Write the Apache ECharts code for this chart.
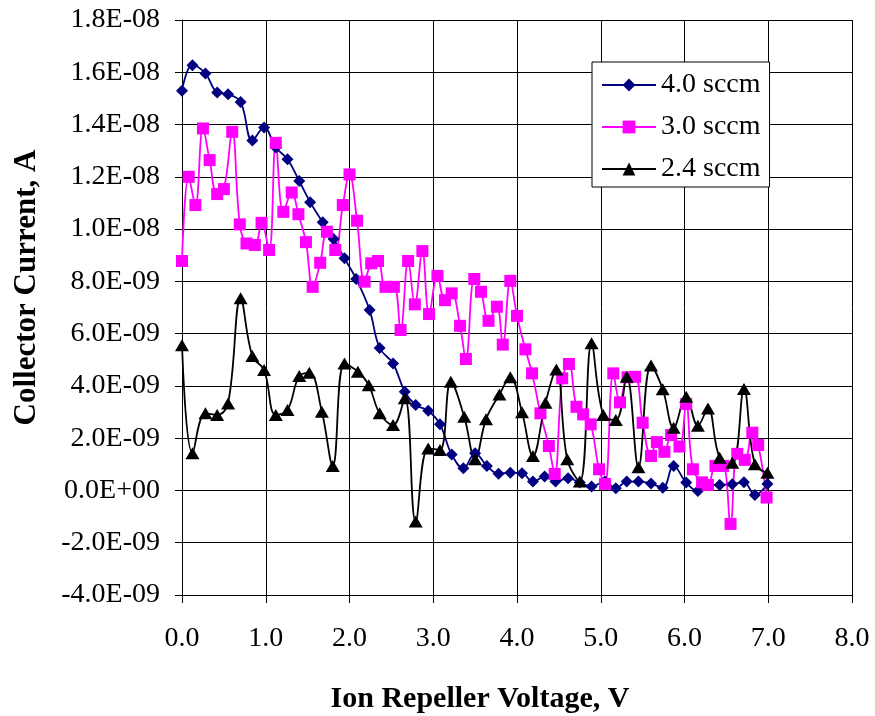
<!DOCTYPE html>
<html>
<head>
<meta charset="utf-8">
<script src="https://cdn.jsdelivr.net/npm/echarts@6/dist/echarts.min.js"></script>
<style>
  html, body { margin: 0; padding: 0; background: #fff; }
  #chart { width: 875px; height: 716px; }
</style>
</head>
<body>
<div id="chart"></div>
<script>
// currents are in units of 1E-09 A, voltages in V
var x40 = [0.00, 0.125, 0.28, 0.42, 0.55, 0.70, 0.84, 0.98, 1.12, 1.26, 1.40, 1.53, 1.68, 1.81, 1.94, 2.08, 2.24, 2.36, 2.52, 2.66,
	2.79, 2.94, 3.08, 3.22, 3.36, 3.50, 3.64, 3.78, 3.92, 4.06, 4.19, 4.33, 4.46, 4.61, 4.75, 4.89, 5.05, 5.18, 5.31, 5.45,
	5.60, 5.74, 5.87, 6.02, 6.16, 6.28, 6.42, 6.57, 6.71, 6.84, 6.99]
var y40 = [15.29, 16.27, 15.95, 15.23, 15.16, 14.86, 13.39, 13.89, 13.12, 12.67, 11.84, 11.03, 10.26, 9.62, 8.88, 8.09, 6.90, 5.45, 4.86, 3.78,
	3.27, 3.05, 2.53, 1.38, 0.85, 1.42, 0.94, 0.64, 0.68, 0.66, 0.34, 0.53, 0.34, 0.47, 0.30, 0.15, 0.34, 0.08, 0.34, 0.34,
	0.27, 0.10, 0.94, 0.30, -0.02, 0.21, 0.21, 0.24, 0.31, -0.17, 0.25]

var x30 = [0.00, 0.08, 0.16, 0.25, 0.33, 0.42, 0.50, 0.60, 0.69, 0.77, 0.87, 0.95, 1.04, 1.12, 1.21, 1.31, 1.39, 1.48, 1.56, 1.65,
	1.73, 1.83, 1.92, 2.00, 2.09, 2.18, 2.26, 2.34, 2.43, 2.53, 2.61, 2.70, 2.78, 2.87, 2.95, 3.05, 3.14, 3.22, 3.32, 3.39,
	3.49, 3.57, 3.66, 3.76, 3.83, 3.92, 4.00, 4.10, 4.18, 4.28, 4.38, 4.45, 4.54, 4.62, 4.71, 4.79, 4.88, 4.98, 5.05, 5.15,
	5.23, 5.32, 5.41, 5.50, 5.60, 5.67, 5.76, 5.84, 5.94, 6.02, 6.10, 6.21, 6.28, 6.37, 6.46, 6.55, 6.63, 6.72, 6.81, 6.88, 6.98]
var y30 = [8.78, 12.00, 10.92, 13.85, 12.64, 11.34, 11.53, 13.72, 10.18, 9.45, 9.39, 10.24, 9.20, 13.30, 10.66, 11.40, 10.57, 9.50, 7.79, 8.71,
	9.90, 9.20, 10.92, 12.09, 10.32, 7.99, 8.69, 8.78, 7.79, 7.79, 6.14, 8.78, 7.12, 9.16, 6.75, 8.21, 7.28, 7.54, 6.30, 5.03,
	8.09, 7.60, 6.49, 7.03, 5.58, 8.02, 6.68, 5.40, 4.48, 2.95, 1.70, 0.63, 4.29, 4.84, 3.20, 2.91, 2.53, 0.81, 0.25, 4.48,
	3.37, 4.33, 4.35, 2.59, 1.32, 1.85, 1.48, 2.12, 1.68, 3.31, 0.81, 0.31, 0.21, 0.94, 0.94, -1.28, 1.40, 1.17, 2.21, 1.74, -0.27]

var x24 = [0.00, 0.125, 0.28, 0.42, 0.55, 0.70, 0.84, 0.98, 1.12, 1.26, 1.40, 1.52, 1.67, 1.80, 1.94, 2.10, 2.23, 2.36, 2.52, 2.66,
	2.79, 2.94, 3.08, 3.21, 3.37, 3.50, 3.63, 3.79, 3.92, 4.06, 4.19, 4.34, 4.47, 4.60, 4.75, 4.89, 5.03, 5.18, 5.31, 5.45,
	5.60, 5.74, 5.87, 6.02, 6.16, 6.28, 6.42, 6.57, 6.71, 6.84, 6.99]
var y24 = [5.56, 1.42, 2.95, 2.89, 3.33, 7.35, 5.14, 4.61, 2.89, 3.08, 4.38, 4.50, 3.01, 0.94, 4.86, 4.54, 4.03, 2.95, 2.50, 3.53,
	-1.19, 1.61, 1.55, 4.16, 2.82, 1.19, 2.72, 3.67, 4.33, 2.99, 1.32, 3.36, 4.63, 1.19, 0.34, 5.63, 2.89, 2.70, 4.35, 0.89,
	4.78, 3.87, 2.40, 3.59, 2.48, 3.14, 1.25, 1.06, 3.88, 1.00, 0.68]

var names = ['4.0 sccm', '3.0 sccm', '2.4 sccm']
var colors = ['#000080', '#FF00FF', '#000000']

function pairs(xs, ys) {
	var out = []
	for (let i = 0; i < xs.length; i++) out.push([xs[i], ys[i]])
	return out
}

function sci(v) {
	var s = (v * 1e-9).toExponential(1).split('e')
	var e = parseInt(s[1], 10)
	var sign = e < 0 ? '-' : '+'
	var a = Math.abs(e)
	return s[0] + 'E' + sign + (a < 10 ? '0' + a : a)
}

var font = 'Liberation Serif, Times New Roman, serif'

var myChart = echarts.init(document.getElementById('chart'))
var option = {
	animation: false,
	backgroundColor: '#fff',
	textStyle: { fontFamily: font, color: '#000' },
	grid: {
		left: 182,
		right: 23,
		top: 20,
		bottom: 121,
		containLabel: false,
		outerBoundsMode: 'none'
	},
	legend: {
		orient: 'vertical',
		left: 592,
		top: 62,
		padding: [9, 9, 4, 9],
		itemWidth: 54,
		itemHeight: 16,
		itemGap: 14,
		itemTextGap: 8,
		borderColor: '#000',
		borderWidth: 1,
		backgroundColor: '#fff',
		textStyle: { fontFamily: font, fontSize: 28, lineHeight: 28, color: '#000' },
		data: names
	},
	xAxis: {
		type: 'value',
		min: 0,
		max: 8,
		interval: 1,
		name: 'Ion Repeller Voltage, V',
		nameLocation: 'middle',
		nameGap: 89,
		nameTextStyle: { fontFamily: font, fontSize: 30, fontWeight: 'bold', color: '#000', padding: [0, 74, 0, 0] },
		axisLine: { onZero: false, lineStyle: { color: '#000', width: 1 } },
		axisTick: { show: true, inside: false, length: 8, lineStyle: { color: '#000' } },
		axisLabel: {
			margin: 30,
			fontFamily: font,
			fontSize: 28,
			color: '#000',
			formatter: function(v) { return v.toFixed(1) }
		},
		splitLine: { show: true, lineStyle: { color: '#000', width: 1 } }
	},
	yAxis: {
		type: 'value',
		min: -4,
		max: 18,
		interval: 2,
		name: 'Collector Current, A',
		nameLocation: 'middle',
		nameGap: 140,
		nameTextStyle: { fontFamily: font, fontSize: 31, fontWeight: 'bold', color: '#000', padding: [0, 0, 0, 40] },
		axisLine: { show: true, lineStyle: { color: '#000', width: 1 } },
		axisTick: { show: true, inside: false, length: 7, lineStyle: { color: '#000' } },
		axisLabel: {
			margin: 22,
			fontFamily: font,
			fontSize: 28,
			color: '#000',
			formatter: sci
		},
		splitLine: { show: true, lineStyle: { color: '#000', width: 1 } }
	},
	series: [{
		name: names[0],
		type: 'line',
		smooth: 0.4,
		data: pairs(x40, y40),
		symbol: 'diamond',
		symbolSize: 12,
		color: colors[0],
		lineStyle: { color: colors[0], width: 1.8 },
		itemStyle: { color: colors[0] }
	}, {
		name: names[1],
		type: 'line',
		smooth: 0.4,
		data: pairs(x30, y30),
		symbol: 'rect',
		symbolSize: 12,
		color: colors[1],
		lineStyle: { color: colors[1], width: 1.8 },
		itemStyle: { color: colors[1] }
	}, {
		name: names[2],
		type: 'line',
		smooth: 0.4,
		data: pairs(x24, y24),
		symbol: 'triangle',
		symbolSize: [14, 12],
		color: colors[2],
		lineStyle: { color: colors[2], width: 1.8 },
		itemStyle: { color: colors[2] }
	}]
}

myChart.setOption(option)
</script>
</body>
</html>
